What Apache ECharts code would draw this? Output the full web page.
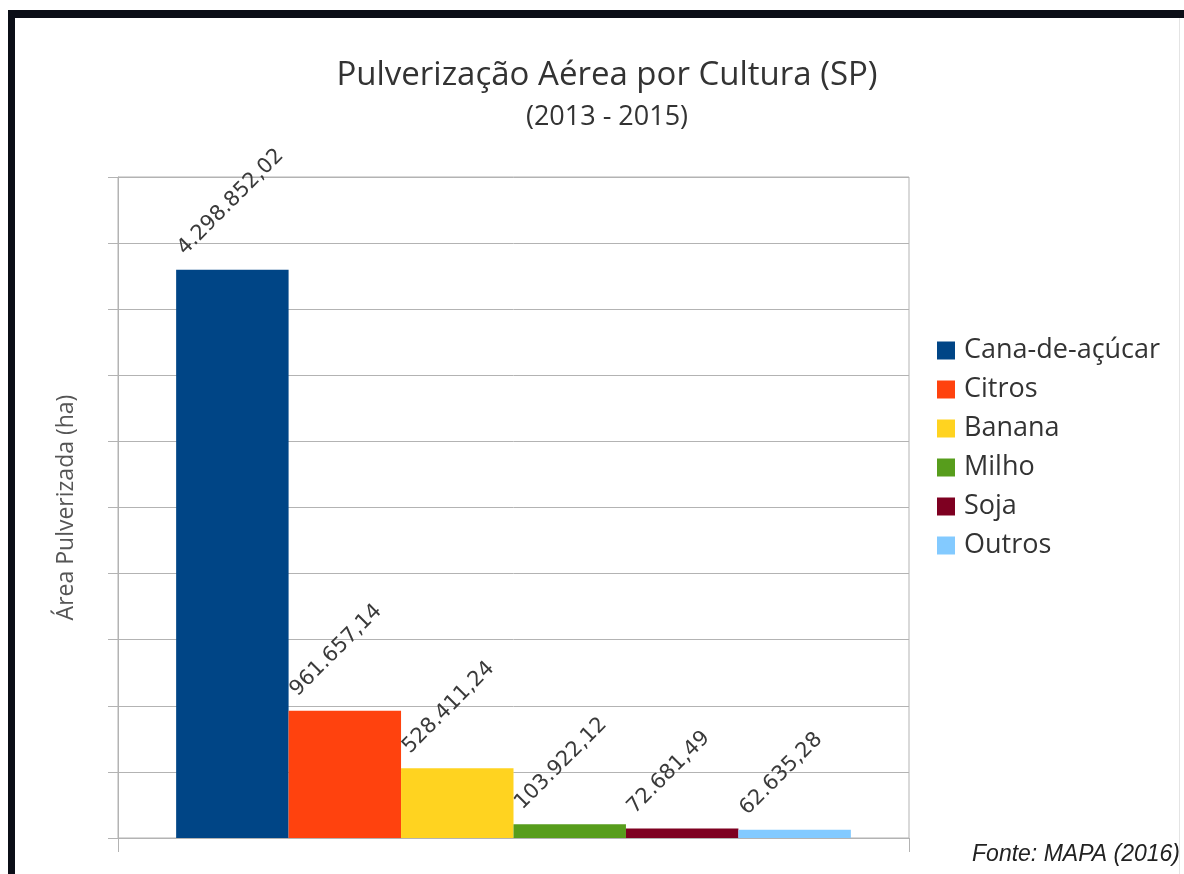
<!DOCTYPE html>
<html>
<head>
<meta charset="utf-8">
<title>Pulverização Aérea por Cultura (SP)</title>
<script src="https://cdn.jsdelivr.net/npm/echarts@6/dist/echarts.min.js"></script>
<style>
  html, body { margin: 0; padding: 0; background: #ffffff; }
  #chart { width: 1184px; height: 874px; }
</style>
</head>
<body>
<div id="chart"></div>
<script>
// Sprayed area by crop, São Paulo state, 2013–2015 (hectares)
const crops = ['Cana-de-açúcar', 'Citros', 'Banana', 'Milho', 'Soja', 'Outros'];
const areas = [4298852.02, 961657.14, 528411.24, 103922.12, 72681.49, 62635.28];
const cropColors = ['#004586', '#ff420e', '#ffd320', '#579d1c', '#7e0021', '#83caff'];
const axisCategories = ['São Paulo'];

// Brazilian number format: 4.298.852,02
function formatBR(v) {
  const parts = v.toFixed(2).split('.');
  const intPart = parts[0].replace(/\B(?=(\d{3})+(?!\d))/g, '.');
  return intPart + ',' + parts[1];
}

const FONT = '"Open Sans", "DejaVu Sans", sans-serif';
const gridColor = '#b3b3b3';

const chart = echarts.init(document.getElementById('chart'), null, { renderer: 'canvas' });

const series = crops.map((name, i) => ({
  name: name,
  type: 'bar',
  data: [areas[i]],
  barGap: '0%',
  barCategoryGap: '14.7%',
  itemStyle: { color: cropColors[i] },
  label: {
    show: true,
    position: [5, -18],
    rotate: 45,
    align: 'left',
    verticalAlign: 'middle',
    fontFamily: '"DejaVu Sans", sans-serif',
    fontSize: 21,
    color: '#3a3a3a',
    formatter: p => formatBR(p.value)
  }
}));

chart.setOption({
  backgroundColor: '#ffffff',
  animation: false,
  title: {
    text: 'Pulverização Aérea por Cultura (SP)',
    subtext: '(2013 - 2015)',
    left: 602,
    textAlign: 'center',
    top: 54,
    itemGap: 12,
    textStyle: { fontFamily: FONT, fontSize: 33, fontWeight: 'normal', color: '#333333' },
    subtextStyle: { fontFamily: FONT, fontSize: 27, color: '#333333' }
  },
  legend: {
    orient: 'vertical',
    left: 937,
    top: 337,
    padding: 0,
    icon: 'rect',
    itemWidth: 18,
    itemHeight: 18,
    itemGap: 12,
    textStyle: { fontFamily: FONT, fontSize: 27, color: '#333333', padding: [0, 0, 0, 4] },
    data: crops
  },
  grid: {
    left: 118,
    right: 275,
    top: 177,
    bottom: 36,
    show: true,
    borderColor: gridColor,
    borderWidth: 1,
    containLabel: false
  },
  xAxis: {
    type: 'category',
    data: axisCategories,
    boundaryGap: true,
    axisLine: { show: true, lineStyle: { color: gridColor } },
    axisTick: { show: true, length: 14, lineStyle: { color: gridColor } },
    axisLabel: { show: false }
  },
  yAxis: {
    type: 'value',
    min: 0,
    max: 5000000,
    interval: 500000,
    name: 'Área Pulverizada (ha)',
    nameLocation: 'middle',
    nameGap: 40,
    nameRotate: 90,
    nameTextStyle: { fontFamily: FONT, fontSize: 23, color: '#555555' },
    axisLine: { show: true, lineStyle: { color: gridColor } },
    axisTick: { show: true, length: 10, lineStyle: { color: gridColor } },
    axisLabel: { show: false },
    splitLine: { show: true, lineStyle: { color: gridColor } }
  },
  series: series,
  graphic: [
    // dark frame along the top and left edges
    { type: 'rect', left: 8, top: 10, shape: { width: 1176, height: 8 }, style: { fill: '#0b0e17' }, silent: true },
    { type: 'rect', left: 8, top: 10, shape: { width: 7, height: 864 }, style: { fill: '#0b0e17' }, silent: true },
    // faint right edge
    { type: 'rect', left: 1179, top: 18, shape: { width: 1, height: 856 }, style: { fill: '#e4e4e4' }, silent: true },
    // source note
    {
      type: 'text',
      right: 4,
      top: 843,
      style: {
        text: 'Fonte: MAPA (2016)',
        font: 'italic 23px "Liberation Sans", Arial, sans-serif',
        fill: '#222222'
      }
    }
  ]
});
</script>
</body>
</html>
